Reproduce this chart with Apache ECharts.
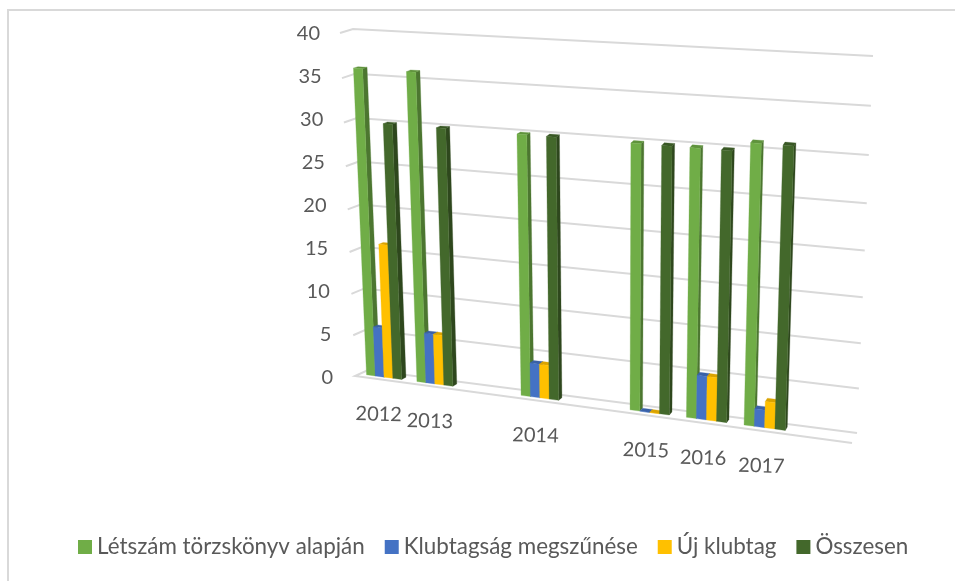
<!DOCTYPE html>
<html><head><meta charset="utf-8">
<style>html,body{margin:0;padding:0;background:#fff}#c{width:955px;height:581px}</style>
<script src="https://cdn.jsdelivr.net/npm/echarts@6/dist/echarts.min.js"></script>
</head><body><div id="c"></div>
<script>
const years = ['2012','2013','2014','2015','2016','2017'];
const slots = [0,1,3,5,6,7];
const letszam = [36,36,30,30,30,31];
const megszunes = [6,6,4,0,5,2];
const ujtag = [16,6,4,0,5,3];
const osszesen = [30,30,30,30,30,31];
const yTicks = [0,5,10,15,20,25,30,35,40];
const names = ['Létszám törzskönyv alapján','Klubtagság megszűnése','Új klubtag','Összesen'];
const colors = ['#70ad47','#4472c4','#ffc000','#43682b'];

const N = 8.98, S0 = 0.14, W = 0.175, Z0 = 0.35, Z1 = 0.7;
function homo(p0,p1,p2,p3){
  const dx1=p1[0]-p2[0],dx2=p3[0]-p2[0],sx=p0[0]-p1[0]+p2[0]-p3[0];
  const dy1=p1[1]-p2[1],dy2=p3[1]-p2[1],sy=p0[1]-p1[1]+p2[1]-p3[1];
  const den=dx1*dy2-dx2*dy1;
  const g=(sx*dy2-dx2*sy)/den,h=(dx1*sy-sx*dy1)/den;
  const a=p1[0]-p0[0]+g*p1[0],b=p3[0]-p0[0]+h*p3[0],c=p0[0];
  const d=p1[1]-p0[1]+g*p1[1],e=p3[1]-p0[1]+h*p3[1],f=p0[1];
  return (u,v)=>{const w=g*u+h*v+1;return [(a*u+b*v+c)/w,(d*u+e*v+f)/w];};
}
const front = homo([355,376],[852,443],[868,66],[340,33]);
const back  = homo([368,370],[857,433],[873,56],[353,29]);
function proj(u,v,z){const f=front(u,v),b=back(u,v);return [f[0]+(b[0]-f[0])*z,f[1]+(b[1]-f[1])*z];}
function norm(params,api,xv,yv){
  const p=api.coord([xv,yv]),r=params.coordSys;
  return [(p[0]-r.x)/r.width,(r.y+r.height-p[1])/r.height];
}
function shade(hex,k){
  const n=parseInt(hex.slice(1),16);
  return 'rgb('+[(n>>16)&255,(n>>8)&255,n&255].map(c=>Math.round(c*k)).join(',')+')';
}
function barSeries(idx,values){
  return {
    type:'custom',name:names[idx],coordinateSystem:'cartesian2d',clip:false,silent:true,
    itemStyle:{color:colors[idx]},
    data:values.map((v,i)=>[slots[i],v]),
    encode:{x:0,y:1},
    renderItem(params,api){
      const s=api.value(0)+S0+idx*W, v=api.value(1);
      const a=norm(params,api,s,0),b=norm(params,api,s+W,v);
      const u0=a[0],u1=b[0],t0=a[1],t1=b[1];
      const poly=(pts,c)=>({type:'polygon',shape:{points:pts},style:{fill:c,stroke:c,lineWidth:0.3}});
      return {type:'group',children:[
        poly([proj(u1,t0,Z0),proj(u1,t0,Z1),proj(u1,t1,Z1),proj(u1,t1,Z0)],shade(colors[idx],0.68)),
        poly([proj(u0,t1,Z0),proj(u1,t1,Z0),proj(u1,t1,Z1),proj(u0,t1,Z1)],shade(colors[idx],0.85)),
        poly([proj(u0,t0,Z0),proj(u1,t0,Z0),proj(u1,t1,Z0),proj(u0,t1,Z0)],colors[idx])
      ]};
    }
  };
}
const gridSeries={
  type:'custom',clip:false,silent:true,
  data:yTicks.map(t=>[0,t]),encode:{x:0,y:1},
  renderItem(params,api){
    const t=norm(params,api,0,api.value(1))[1];
    const pts=[proj(0,t,0),proj(0,t,1),proj(1,t,1)];
    if(api.value(1)===0) pts.unshift(proj(1,t,0));
    return {type:'polyline',shape:{points:pts},style:{fill:'none',stroke:'#d9d9d9',lineWidth:2}};
  }
};
const labelSeries={
  type:'custom',clip:false,silent:true,
  data:years.map((y,i)=>[slots[i],0]),encode:{x:0,y:1},
  renderItem(params,api){
    const s=api.value(0)+S0+2*W;
    const n=norm(params,api,s,0);
    const p=proj(n[0],n[1],0);
    return {type:'text',x:p[0]-1,y:p[1]+35,rotation:-0.03,
      style:{text:years[params.dataIndex],fill:'#595959',font:'20px Lato',align:'center',verticalAlign:'middle'}};
  }
};
const rich={};
yTicks.forEach(t=>{rich['p'+t]={padding:[0,13*t/40,0,0],fontFamily:'Lato',fontSize:20,color:'#595959'};});
const chart=echarts.init(document.getElementById('c'),null,{renderer:'canvas'});
chart.setOption({
  animation:false,
  backgroundColor:'#fff',
  grid:{left:334,top:34,width:520,height:344,containLabel:false},
  xAxis:{type:'value',min:0,max:N,show:false},
  yAxis:{type:'value',min:0,max:40,interval:5,
    axisLine:{show:false},axisTick:{show:false},splitLine:{show:false},
    axisLabel:{margin:1,formatter:v=>'{p'+v+'|'+v+'}',rich}},
  legend:{data:names,left:73,top:531,itemWidth:14,itemHeight:14,itemGap:20,icon:'rect',
    textStyle:{fontFamily:'Lato',fontSize:22.4,color:'#595959'}},
  graphic:[
    {type:'line',shape:{x1:7,y1:10,x2:955,y2:10},style:{stroke:'#d9d9d9',lineWidth:2},silent:true,z:-1},
    {type:'line',shape:{x1:8,y1:9,x2:8,y2:581},style:{stroke:'#d9d9d9',lineWidth:2},silent:true,z:-1}
  ],
  series:[gridSeries,barSeries(0,letszam),barSeries(1,megszunes),barSeries(2,ujtag),barSeries(3,osszesen),labelSeries]
});
</script></body></html>
